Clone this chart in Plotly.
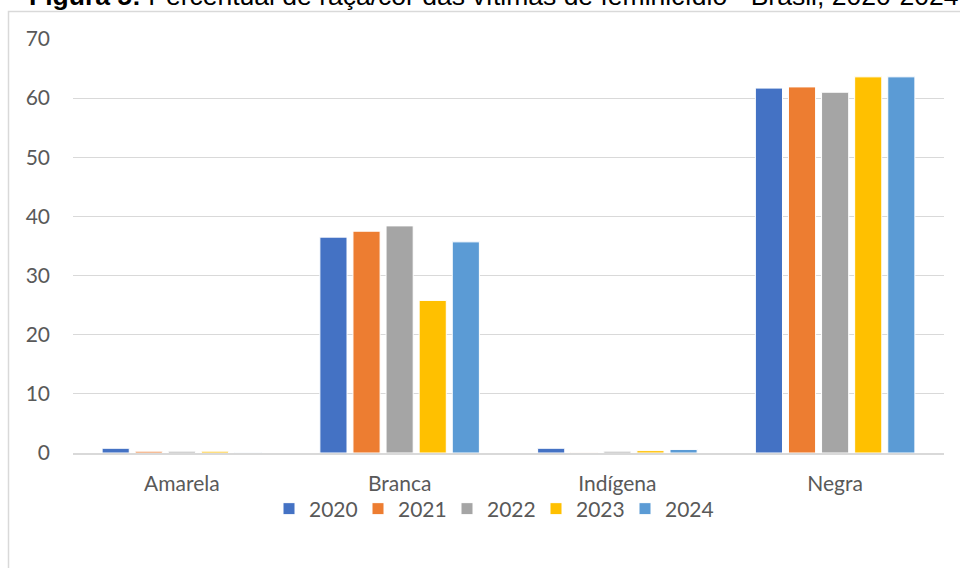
import plotly.graph_objects as go

categories = ["Amarela", "Branca", "Indígena", "Negra"]
years = ["2020", "2021", "2022", "2023", "2024"]
values = {
    "2020": [0.8, 36.5, 0.8, 61.7],
    "2021": [0.3, 37.5, 0.1, 61.9],
    "2022": [0.3, 38.4, 0.3, 61.0],
    "2023": [0.3, 25.8, 0.4, 63.6],
    "2024": [0.1, 35.7, 0.6, 63.6],
}
colors = ["#4472C4", "#ED7D31", "#A5A5A5", "#FFC000", "#5B9BD5"]
yticks = [0, 10, 20, 30, 40, 50, 60, 70]
title = "<b>Figura 5:</b> Percentual de raça/cor das vítimas de feminicídio - Brasil, 2020-2024"

fig = go.Figure()
for y, c in zip(years, colors):
    fig.add_trace(go.Bar(
        x=categories, y=values[y], name=y,
        marker=dict(color=c, line=dict(color="white", width=1)),
    ))

W, H = 960, 568
ml, mr, mt, mb = 73, 16, 39, 115
pw, ph = W - ml - mr, H - mt - mb

def px_x(p):
    return (p - ml) / pw

def px_y(p):
    return (H - mb - p) / ph

fig.update_layout(
    width=W, height=H,
    margin=dict(l=ml, r=mr, t=mt, b=mb, pad=0),
    paper_bgcolor="white", plot_bgcolor="white",
    barmode="group", bargap=0.24, bargroupgap=0.18,
    font=dict(family="Lato, Liberation Sans, sans-serif", color="#595959", size=21),
    showlegend=True,
    legend=dict(orientation="h", x=0.5 - 17 / pw, xanchor="center", y=px_y(509), yanchor="middle",
                font=dict(size=21, color="#595959"), itemwidth=30, traceorder="normal",
                entrywidth=44, entrywidthmode="pixels", bgcolor="rgba(0,0,0,0)"),
    xaxis=dict(showgrid=False, showline=True, linecolor="#d9d9d9", linewidth=1.5,
               ticks="", ticklabelstandoff=11, tickfont=dict(size=21, color="#595959")),
    yaxis=dict(range=[0, 70], tickvals=yticks, showgrid=True, gridcolor="#d9d9d9",
               gridwidth=1, zeroline=False, showline=False, ticks="",
               ticklabelstandoff=22, tickfont=dict(size=21, color="#595959")),
    shapes=[dict(type="rect", xref="paper", yref="paper",
                 x0=px_x(8.5), x1=px_x(1000), y0=px_y(600), y1=px_y(11.5),
                 line=dict(color="#d9d9d9", width=1.5), fillcolor="rgba(0,0,0,0)",
                 layer="below")],
    annotations=[dict(text=title, xref="paper", yref="paper", x=px_x(27), y=1,
                      xanchor="left", yanchor="bottom", yshift=26, showarrow=False,
                      font=dict(family="Liberation Sans, Arial, sans-serif", size=26.5, color="black"))],
)

fig.write_html("out.html", config={"displayModeBar": False},
               post_script="document.body.style.margin='0';document.body.style.overflow='hidden';")
